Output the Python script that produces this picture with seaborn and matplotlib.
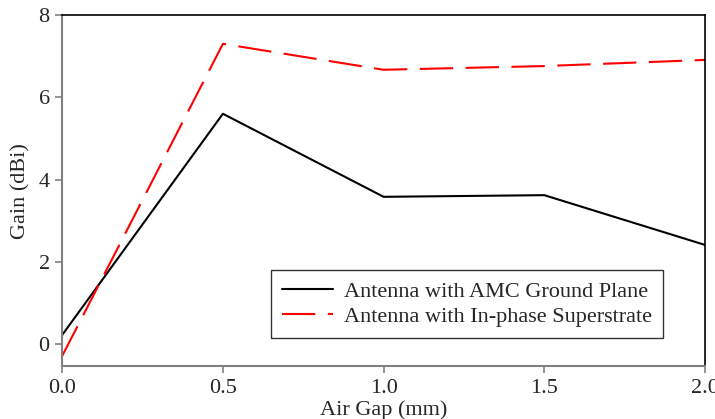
import matplotlib
matplotlib.use("Agg")
import matplotlib.pyplot as plt
import seaborn as sns
import pandas as pd

air_gap = [0.0, 0.5, 1.0, 1.5, 2.0]
gain_amc = [0.22, 5.6, 3.58, 3.62, 2.41]
gain_superstrate = [-0.29, 7.3, 6.67, 6.76, 6.91]
label_amc = "Antenna with AMC Ground Plane"
label_sup = "Antenna with In-phase Superstrate"

sns.set_style("white")
plt.rcParams['font.family'] = ['Liberation Serif', 'DejaVu Serif']

df = pd.DataFrame({
    "Air Gap": air_gap * 2,
    "Gain": gain_amc + gain_superstrate,
    "Series": [label_amc] * len(air_gap) + [label_sup] * len(air_gap),
})

fig, ax = plt.subplots(figsize=(7.15, 4.19), dpi=100)
fig.subplots_adjust(left=0.087, right=0.986, top=0.964, bottom=0.126)

sns.lineplot(data=df, x="Air Gap", y="Gain", hue="Series", style="Series",
             palette=["black", "red"], dashes=[(None, None), (16, 6)],
             linewidth=1.5, ax=ax)

ax.set_xlim(0, 2.0)
ax.set_ylim(-0.54, 8)
ax.set_xticks([0.0, 0.5, 1.0, 1.5, 2.0])
ax.set_xticklabels(["0.0", "0.5", "1.0", "1.5", "2.0"])
ax.set_yticks([0, 2, 4, 6, 8])
ax.tick_params(axis='both', direction='out', length=5, width=1.2, color='#808080',
               labelsize=16, bottom=True, left=True, pad=4)
ax.set_xlabel("Air Gap (mm)", fontsize=16, labelpad=1.5)
ax.set_ylabel("Gain (dBi)", fontsize=16, labelpad=6)

for side in ['left', 'bottom']:
    ax.spines[side].set_color('#808080')
    ax.spines[side].set_linewidth(1.5)
for side in ['top', 'right']:
    ax.spines[side].set_color('black')
    ax.spines[side].set_linewidth(1.2)

leg = ax.legend(loc='lower right', bbox_to_anchor=(0.935, 0.08), fontsize=16,
                frameon=True, fancybox=False, edgecolor='black', handlelength=2.3,
                borderpad=0.5, labelspacing=0.2, handletextpad=0.5,
                borderaxespad=0)
leg.get_frame().set_linewidth(1.0)

fig.savefig("out.png", dpi=100)
